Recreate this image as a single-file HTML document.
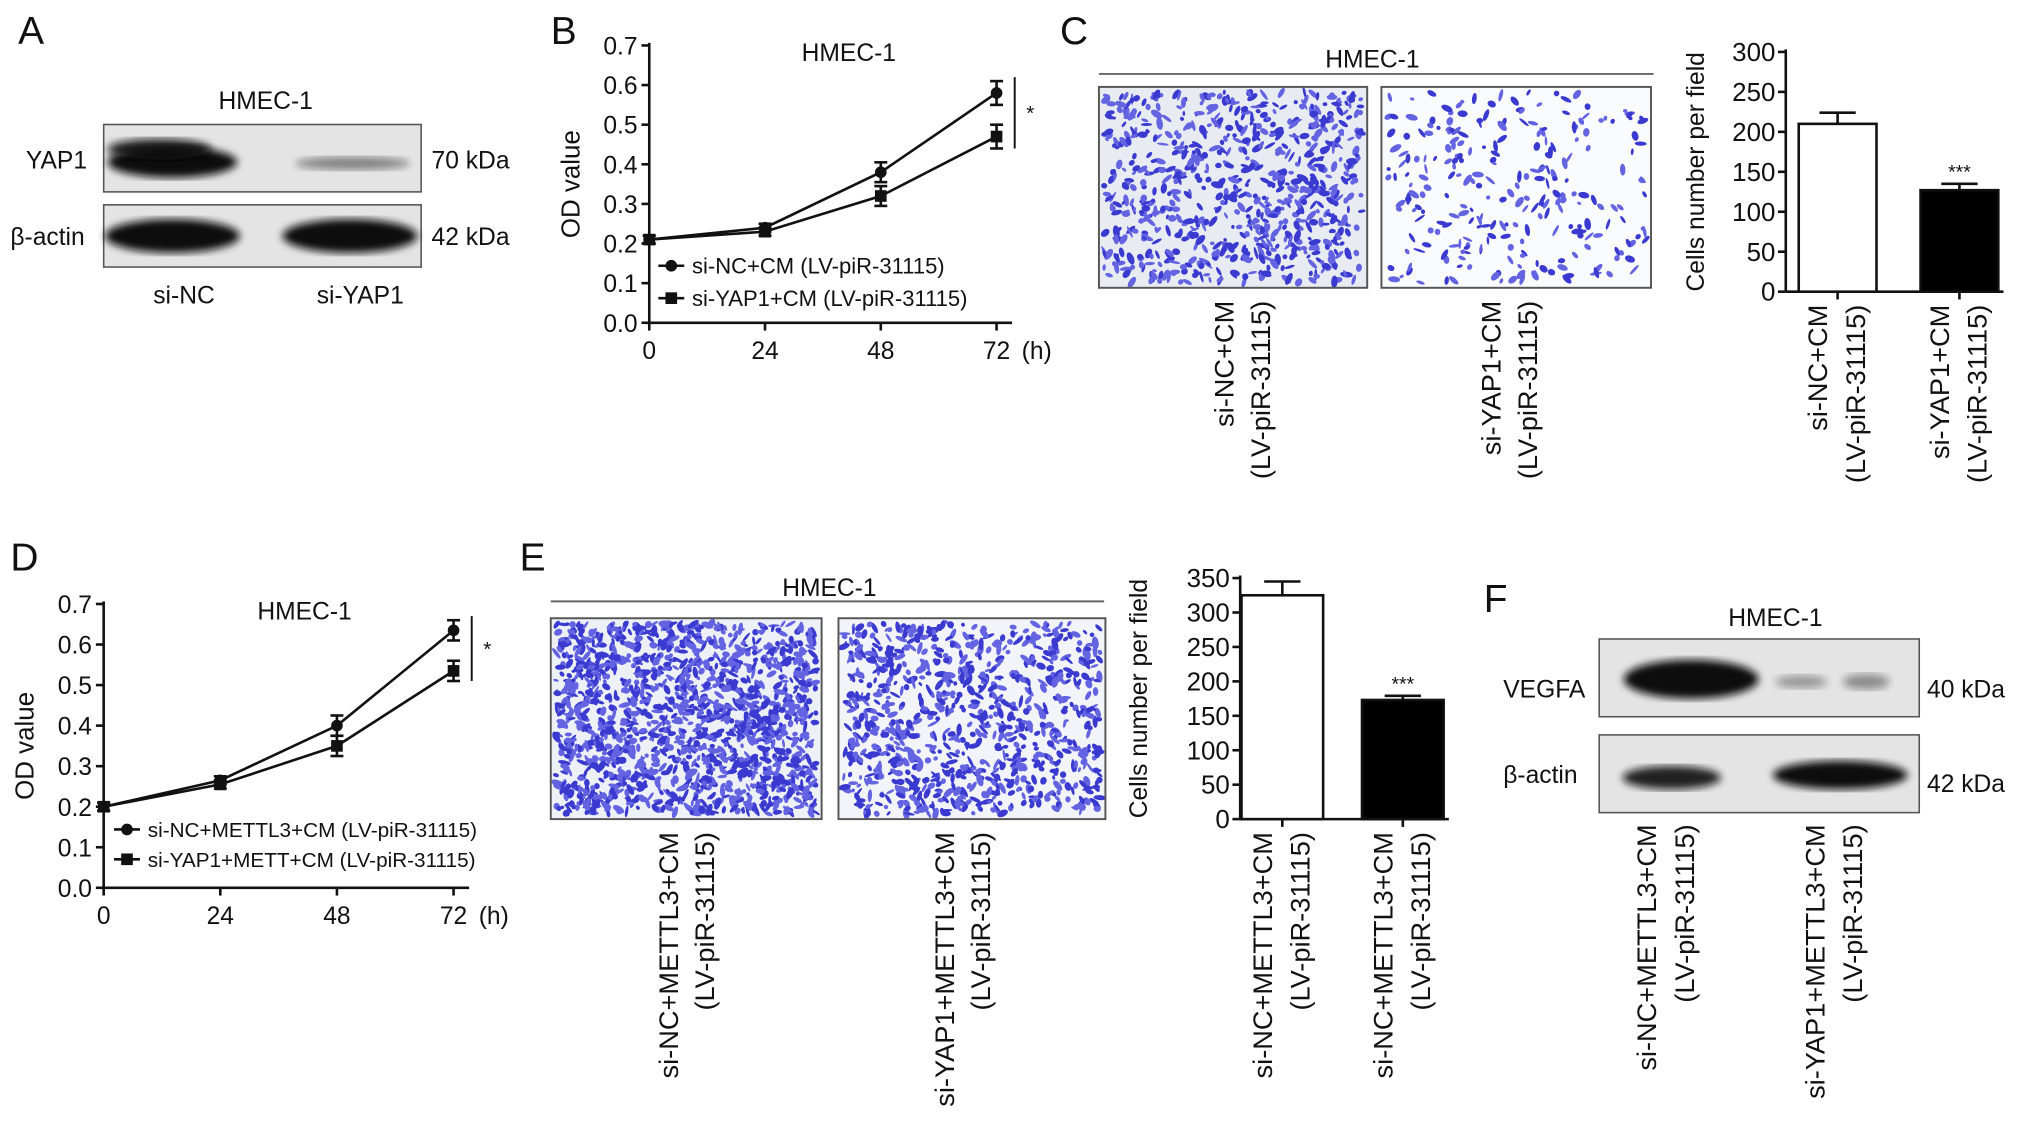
<!DOCTYPE html>
<html><head><meta charset="utf-8"><style>
html,body{margin:0;padding:0;background:#fff;}
svg{display:block;}
text{font-family:"Liberation Sans",sans-serif;fill:#111;}
</style></head><body>
<svg id="fig" width="2032" height="1138" viewBox="0 0 1568 878" xmlns="http://www.w3.org/2000/svg">
<defs>
<filter id="blur"><feGaussianBlur stdDeviation="3"/></filter>
</defs>
<g id="root"></g>
</svg>
<script>
// ---- data ----
const timeCats = [0, 24, 48, 72];
const bNC = [0.21, 0.24, 0.38, 0.58];
const bNCerr = [0.01, 0.01, 0.025, 0.03];
const bYAP = [0.21, 0.23, 0.32, 0.47];
const bYAPerr = [0.01, 0.01, 0.025, 0.03];
const dNC = [0.20, 0.265, 0.40, 0.635];
const dNCerr = [0.01, 0.01, 0.025, 0.025];
const dYAP = [0.20, 0.255, 0.35, 0.535];
const dYAPerr = [0.01, 0.01, 0.025, 0.025];
const odTicks = ["0.0","0.1","0.2","0.3","0.4","0.5","0.6","0.7"];
const cBarVals = [210, 127];
const cBarErr = [14, 8];
const cTicks = [0,50,100,150,200,250,300];
const eBarVals = [325, 173];
const eBarErr = [20, 6];
const eTicks = [0,50,100,150,200,250,300,350];

const NS = "http://www.w3.org/2000/svg";
const root = document.getElementById('root');
function mk(tag, attrs, parent, txt){
  const e = document.createElementNS(NS, tag);
  for (const k in attrs) e.setAttribute(k, attrs[k]);
  if (txt !== undefined) e.textContent = txt;
  (parent || root).appendChild(e);
  return e;
}
function txt(x,y,s,size,anchor,name,rot){
  const t = mk('text',{x:x,y:y,'font-size':size||18,'text-anchor':anchor||'start'},root,s);
  if (rot) t.setAttribute('transform','rotate(-90 '+x+' '+y+')');
  
  
  return t;
}

[["A",14,34],["B",425,34],["C",818,34],["D",8,440],["E",401,440],["F",1145,472]].forEach(l=>{
  txt(l[1],l[2],l[0],30,'start','panel-letter-'+l[0].toLowerCase());
});

function blot(x,y,w,h,bands,name){
  const g = mk('g',{});
  
  
  mk('rect',{x:x,y:y,width:w,height:h,fill:'#e4e4e4',stroke:'#555','stroke-width':1.2},g);
  bands.forEach(b=>{
    mk('ellipse',{cx:b[0],cy:b[1],rx:b[2],ry:b[3],fill:'#111',opacity:b[4],filter:'url(#blur)'},g);
  });
}
txt(205,84,"HMEC-1",19,'middle','blot-a-title');
blot(80,96,245,52,[[133,125,50,12,1],[123,115,40,8,0.9],[272,126,44,5,0.45]],'blot-yap1');
blot(80,158,245,48,[[133,182,52,13,1],[270,182,52,13,1]],'blot-actin-a');
txt(20,130,"YAP1",19,'start','label-yap1');
txt(8,189,"β-actin",19,'start','label-actin-a');
txt(333,130,"70 kDa",19,'start','label-70kda');
txt(333,189,"42 kDa",19,'start','label-42kda-a');
txt(142,234,"si-NC",19,'middle','label-si-nc');
txt(278,234,"si-YAP1",19,'middle','label-si-yap1');
txt(1370,483,"HMEC-1",19,'middle','blot-f-title');
blot(1234,493,247,60,[[1305,524,52,15,1],[1390,526,20,5,0.35],[1440,526,18,6,0.4]],'blot-vegfa');
blot(1234,567,247,60,[[1290,600,38,9,0.9],[1420,598,52,11,1]],'blot-actin-f');
txt(1160,538,"VEGFA",19,'start','label-vegfa');
txt(1160,604,"β-actin",19,'start','label-actin-f');
txt(1487,538,"40 kDa",19,'start','label-40kda');
txt(1487,611,"42 kDa",19,'start','label-42kda-f');
[[1278,"si-NC+METTL3+CM"],[1307,"(LV-piR-31115)"],[1408,"si-YAP1+METTL3+CM"],[1437,"(LV-piR-31115)"]].forEach((l,i)=>{
  txt(l[0],636,l[1],21,'end','blot-f-xlabel-'+i,true);
});

function lineChart(o){
  const sx = v => o.x0 + (v - timeCats[0])/(timeCats[3]-timeCats[0])*(o.x1-o.x0);
  const sy = v => o.y0 - v/0.7*(o.y0-o.y1);
  const g = mk('g',{});
  
  
  mk('line',{x1:o.x0,y1:o.y1-2,x2:o.x0,y2:o.y0,stroke:'#111','stroke-width':2},g);
  mk('line',{x1:o.x0,y1:o.y0,x2:o.x1+12,y2:o.y0,stroke:'#111','stroke-width':2},g);
  odTicks.forEach((t,i)=>{
    const y = sy(parseFloat(t));
    mk('line',{x1:o.x0-6,y1:y,x2:o.x0,y2:y,stroke:'#111','stroke-width':2},g);
    txt(o.x0-9,y+7,t,19,'end','y-tick-label');
  });
  timeCats.forEach(c=>{
    const x = sx(c);
    mk('line',{x1:x,y1:o.y0,x2:x,y2:o.y0+6,stroke:'#111','stroke-width':2},g);
    txt(x,o.y0+28,String(c),19,'middle','x-tick-label');
  });
  txt(o.x1+31,o.y0+28,"(h)",19,'middle','x-unit-label');
  txt(o.ytx,(o.y0+o.y1)/2,"OD value",20,'middle','y-axis-title',true);
  txt((o.x0+o.x1)/2+20,o.y1+12,"HMEC-1",19,'middle','chart-title');
  const series = [[o.s1,o.e1,'circle'],[o.s2,o.e2,'square']];
  series.forEach((s,si)=>{
    const pts = s[0].map((v,i)=>sx(timeCats[i])+','+sy(v)).join(' ');
    const pl = mk('polyline',{points:pts,fill:'none',stroke:'#111','stroke-width':2},g);
    
    s[0].forEach((v,i)=>{
      const x = sx(timeCats[i]), y = sy(v), e = s[1][i];
      mk('line',{x1:x,y1:sy(v+e),x2:x,y2:sy(v-e),stroke:'#111','stroke-width':2},g);
      mk('line',{x1:x-5,y1:sy(v+e),x2:x+5,y2:sy(v+e),stroke:'#111','stroke-width':2},g);
      mk('line',{x1:x-5,y1:sy(v-e),x2:x+5,y2:sy(v-e),stroke:'#111','stroke-width':2},g);
      let m;
      if (s[2]==='circle') m = mk('circle',{cx:x,cy:y,r:4.5,fill:'#111'},g);
      else m = mk('rect',{x:x-4.5,y:y-4.5,width:9,height:9,fill:'#111'},g);
      
      
    });
  });
  o.legend.forEach((l,i)=>{
    const y = o.ly + i*o.lgap;
    mk('line',{x1:o.lx,y1:y,x2:o.lx+20,y2:y,stroke:'#111','stroke-width':2},g);
    if (i===0) mk('circle',{cx:o.lx+10,cy:y,r:4.5,fill:'#111'},g);
    else mk('rect',{x:o.lx+5.5,y:y-4.5,width:9,height:9,fill:'#111'},g);
    txt(o.lx+26,y+6,l,o.lsize,'start','legend-entry-'+(i+1));
  });
  const sxb = o.x1 + 14;
  mk('line',{x1:sxb,y1:sy(o.s1[3]+o.e1[3]+0.01),x2:sxb,y2:sy(o.s2[3]-o.e2[3]),stroke:'#111','stroke-width':1.5},g);
  txt(sxb+12,(sy(o.s1[3])+sy(o.s2[3]))/2+4,"*",16,'middle','significance-star');
}
lineChart({name:'chart-b',x0:501,x1:769,y0:249,y1:35,s1:bNC,e1:bNCerr,s2:bYAP,e2:bYAPerr,ytx:447,
  legend:["si-NC+CM (LV-piR-31115)","si-YAP1+CM (LV-piR-31115)"],lx:508,ly:205,lgap:25,lsize:17});
lineChart({name:'chart-d',x0:80,x1:350,y0:685,y1:466,s1:dNC,e1:dNCerr,s2:dYAP,e2:dYAPerr,ytx:26,
  legend:["si-NC+METTL3+CM (LV-piR-31115)","si-YAP1+METT+CM (LV-piR-31115)"],lx:88,ly:640,lgap:23,lsize:16});

let seed = 7;
function rnd(){ seed = (seed*16807) % 2147483647; return seed/2147483647; }
function cells(x,y,w,h,n,name,bg,sz){
  const g = mk('g',{});
  
  
  mk('rect',{x:x,y:y,width:w,height:h,fill:bg},g);
  for(let i=0;i<n;i++){
    const cx = x+4+rnd()*(w-8), cy = y+4+rnd()*(h-8);
    mk('ellipse',{cx:cx,cy:cy,rx:(1.5+rnd()*3.5)*sz,ry:(1+rnd()*1.6)*sz,fill:rnd()<0.5?'#3a3ad0':'#6464e2',
      transform:'rotate('+(rnd()*180)+' '+cx+' '+cy+')'},g);
  }
  mk('rect',{x:x,y:y,width:w,height:h,fill:'none',stroke:'#555','stroke-width':1.5},g);
}
txt(1059,52,"HMEC-1",19,'middle','images-c-title');
mk('line',{x1:848,y1:57,x2:1276,y2:57,stroke:'#666','stroke-width':1.5});
cells(848,67,207,155,750,'image-c-si-nc','#e8ecf2',1);
cells(1066,67,208,155,260,'image-c-si-yap1','#fafbfd',1);
[[952,"si-NC+CM"],[980,"(LV-piR-31115)"],[1158,"si-YAP1+CM"],[1186,"(LV-piR-31115)"]].forEach((l,i)=>{
  txt(l[0],232,l[1],21,'end','image-c-label-'+i,true);
});
txt(640,460,"HMEC-1",19,'middle','images-e-title');
mk('line',{x1:425,y1:464,x2:852,y2:464,stroke:'#666','stroke-width':1.5});
cells(425,477,209,155,1500,'image-e-si-nc','#eef0f8',1);
cells(647,477,206,155,900,'image-e-si-yap1','#f3f4f9',1);
[[523,"si-NC+METTL3+CM"],[551,"(LV-piR-31115)"],[736,"si-YAP1+METTL3+CM"],[764,"(LV-piR-31115)"]].forEach((l,i)=>{
  txt(l[0],642,l[1],21,'end','image-e-label-'+i,true);
});

function barChart(o){
  const max = o.ticks[o.ticks.length-1];
  const sy = v => o.y0 - v/max*(o.y0-o.y1);
  const g = mk('g',{});
  
  
  mk('line',{x1:o.x0,y1:o.y1-2,x2:o.x0,y2:o.y0,stroke:'#111','stroke-width':2},g);
  mk('line',{x1:o.x0,y1:o.y0,x2:o.x0+o.off+o.step+o.bw+4,y2:o.y0,stroke:'#111','stroke-width':2},g);
  o.ticks.forEach(t=>{
    const y = sy(t);
    mk('line',{x1:o.x0-6,y1:y,x2:o.x0,y2:y,stroke:'#111','stroke-width':2},g);
    txt(o.x0-8,y+7,String(t),20,'end','y-tick-label');
  });
  txt(o.ytx,(o.y0+o.y1)/2,"Cells number per field",19,'middle','y-axis-title',true);
  o.vals.forEach((v,i)=>{
    const x = o.x0 + o.off + i*o.step;
    const r = mk('rect',{x:x,y:sy(v),width:o.bw,height:o.y0-sy(v),fill:i?'#000':'#fff',stroke:'#111','stroke-width':2},g);
    
    
    const cx = x+o.bw/2, ey = sy(v+o.err[i]);
    mk('line',{x1:cx,y1:sy(v),x2:cx,y2:ey,stroke:'#111','stroke-width':2},g);
    mk('line',{x1:cx-14,y1:ey,x2:cx+14,y2:ey,stroke:'#111','stroke-width':2},g);
    mk('line',{x1:cx,y1:o.y0,x2:cx,y2:o.y0+6,stroke:'#111','stroke-width':2},g);
    if (i===1) txt(cx,ey-4,"***",15,'middle','significance-stars');
    o.labels[i].forEach((l,j)=>{
      txt(cx-8+j*29,o.y0+10,l,21,'end','bar-x-label',true);
    });
  });
}
barChart({name:'bar-chart-c',x0:1378,y0:225,y1:40,vals:cBarVals,err:cBarErr,ticks:cTicks,bw:60,off:10,step:94,ytx:1315,
  labels:[["si-NC+CM","(LV-piR-31115)"],["si-YAP1+CM","(LV-piR-31115)"]]});
barChart({name:'bar-chart-e',x0:957,y0:632,y1:446,vals:eBarVals,err:eBarErr,ticks:eTicks,bw:63,off:1,step:93,ytx:885,
  labels:[["si-NC+METTL3+CM","(LV-piR-31115)"],["si-NC+METTL3+CM","(LV-piR-31115)"]]});
</script>
</body></html>
